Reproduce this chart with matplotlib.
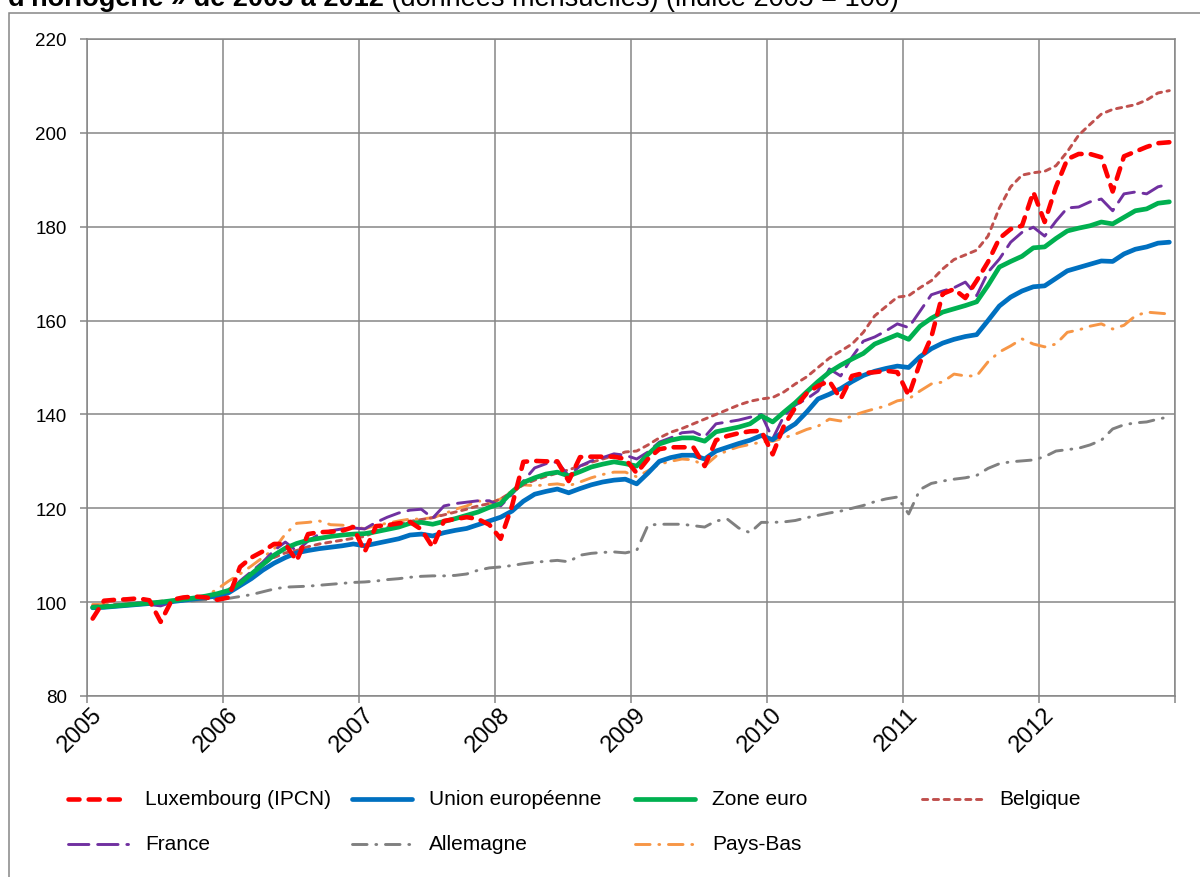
import matplotlib
matplotlib.use("Agg")
import matplotlib.pyplot as plt
import matplotlib.transforms as mtransforms
import numpy as np
from matplotlib.lines import Line2D
from matplotlib.patches import Rectangle

plt.rcParams["font.family"] = ["Liberation Sans", "DejaVu Sans"]

# Monthly index values, 2005 = 100, January 2005 to December 2012
years = list(range(2005, 2013))

luxembourg = [
    96.5, 100.3, 100.5, 100.6, 100.8, 100.4, 95.8, 100.5, 101.0, 101.2, 101.0, 100.5,
    101.0, 107.5, 109.5, 110.8, 112.4, 112.4, 108.8, 114.5, 114.9, 115.0, 115.2, 116.0,
    110.7, 116.2, 116.4, 116.8, 117.1, 115.5, 111.7, 117.3, 117.7, 118.1, 117.7, 116.5,
    113.5, 120.5, 129.9, 130.1, 130.0, 130.0, 125.8, 130.9, 131.0, 131.0, 131.0, 130.5,
    127.5, 130.5, 132.6, 133.0, 133.0, 133.0, 129.0, 134.5, 135.4, 136.0, 136.4, 136.5,
    131.5, 137.6, 141.5, 144.5, 146.1, 147.1, 143.3, 148.2, 148.8, 149.0, 149.3, 149.0,
    144.0, 151.0, 156.5, 165.7, 166.7, 164.8, 168.5, 172.5, 177.5, 179.5, 180.2, 187.4,
    181.0, 188.5, 194.4, 195.5, 195.5, 194.8, 187.5, 195.0, 196.0, 197.0, 197.8, 198.0,
]
union_europeenne = [
    98.8, 98.9, 99.1, 99.3, 99.5, 99.7, 99.9, 100.1, 100.4, 100.7, 101.0, 101.3,
    102.0, 103.5, 105.0, 106.8, 108.3, 109.5, 110.5, 111.0, 111.4, 111.7, 112.0, 112.4,
    112.0, 112.5, 113.0, 113.5, 114.3, 114.5, 114.1, 114.8, 115.3, 115.7, 116.5, 117.3,
    118.1, 119.4, 121.5, 123.0, 123.6, 124.1, 123.3, 124.2, 125.0, 125.6, 126.0, 126.2,
    125.2, 127.5, 130.0, 130.8, 131.3, 131.3, 130.5, 132.2, 133.0, 133.8, 134.5, 135.5,
    134.6, 136.5, 138.0, 140.5, 143.3, 144.3, 145.5, 147.0, 148.3, 149.2, 149.8, 150.3,
    150.0, 152.3, 154.0, 155.2, 156.0, 156.6, 157.0, 160.0, 163.1, 165.0, 166.3, 167.2,
    167.4, 169.0, 170.6, 171.3, 172.0, 172.7, 172.6, 174.2, 175.2, 175.7, 176.5, 176.7,
]
zone_euro = [
    98.9, 99.0, 99.2, 99.4, 99.6, 99.8, 100.0, 100.3, 100.6, 100.9, 101.3, 101.8,
    102.5, 104.0, 106.0, 108.0, 110.0, 111.5, 112.5, 113.2, 113.6, 114.0, 114.3, 114.5,
    114.6, 115.0, 115.5, 116.0, 116.8, 117.0, 116.6, 117.2, 117.8, 118.5, 119.2, 120.2,
    121.0, 123.5, 125.5, 126.5, 127.3, 127.7, 126.9, 127.8, 128.8, 129.4, 129.9, 129.5,
    129.0, 131.5, 133.7, 134.5, 135.0, 135.0, 134.3, 136.3, 136.8, 137.3, 138.0, 139.7,
    138.4, 140.5, 142.5, 144.8, 147.0, 149.0, 150.5, 151.8, 153.0, 155.0, 156.0, 157.0,
    156.0, 158.8, 160.5, 161.8, 162.5, 163.2, 164.0, 167.5, 171.4, 172.6, 173.7, 175.5,
    175.7, 177.5, 179.1, 179.7, 180.2, 181.0, 180.6, 182.0, 183.4, 183.8, 185.0, 185.3,
]
belgique = [
    99.2, 99.3, 99.5, 99.6, 99.8, 100.0, 100.2, 100.4, 100.6, 100.8, 101.0, 101.3,
    102.0, 104.0, 106.0, 108.0, 109.5, 110.5, 111.0, 111.8, 112.4, 112.8, 113.2, 113.6,
    114.0, 115.0, 116.0, 116.6, 117.2, 117.6, 118.0, 118.6, 119.2, 119.8, 120.5, 121.0,
    122.0, 123.5, 125.0, 126.0, 126.8, 127.5, 128.2, 129.0, 129.8, 130.5, 131.2, 132.0,
    132.2, 133.5, 135.0, 136.2, 137.0, 138.0, 139.0, 140.0, 141.0, 142.0, 142.8, 143.3,
    143.6, 144.8, 146.5, 148.0, 150.0, 152.0, 153.5, 155.0, 157.5, 161.0, 163.0, 165.0,
    165.3, 167.0, 168.5, 171.0, 173.0, 174.0, 175.0, 178.0, 184.0, 188.5, 191.0, 191.5,
    191.8, 193.0, 196.0, 199.5, 201.8, 204.0, 205.0, 205.5, 206.0, 207.0, 208.5, 209.0,
]
france = [
    98.8, 99.0, 99.2, 99.5, 99.8, 99.5, 99.2, 100.0, 100.4, 100.8, 101.2, 101.6,
    102.0, 104.5, 106.5, 108.5, 111.0, 112.8, 110.9, 113.0, 114.5, 115.2, 115.6, 115.8,
    115.6, 117.0, 118.1, 119.0, 119.6, 119.8, 117.9, 120.5, 121.0, 121.3, 121.6, 121.6,
    120.5, 123.0, 125.8, 128.6, 129.5, 129.9, 126.9, 129.0, 130.1, 130.8, 131.6, 131.3,
    130.5, 132.0, 134.1, 135.0, 136.1, 136.3, 135.2, 138.0, 138.4, 138.8, 139.4, 140.0,
    134.8, 139.7, 142.0, 143.3, 145.0, 149.7, 148.2, 152.2, 155.6, 156.5, 157.8, 159.3,
    158.5, 162.0, 165.5, 166.3, 167.0, 168.2, 165.3, 170.3, 173.1, 176.7, 178.8, 179.9,
    178.0, 181.2, 184.0, 184.2, 185.3, 185.9, 183.4, 187.0, 187.4, 187.0, 188.5, 189.1,
]
allemagne = [
    99.0, 99.1, 99.2, 99.4, 99.5, 99.7, 99.8, 100.0, 100.2, 100.3, 100.5, 100.7,
    100.8, 101.2, 101.6, 102.2, 102.8, 103.2, 103.3, 103.4, 103.6, 103.8, 104.0, 104.2,
    104.3, 104.5, 104.8, 105.0, 105.3, 105.5, 105.6, 105.6, 105.7, 106.0, 106.8, 107.3,
    107.5, 107.8, 108.2, 108.5, 108.7, 108.9, 108.6, 110.0, 110.4, 110.6, 110.7, 110.5,
    111.0, 116.4, 116.6, 116.6, 116.6, 116.3, 116.0, 117.3, 117.7, 115.8, 114.8, 117.0,
    117.0, 117.1, 117.4, 118.0, 118.5, 119.0, 119.4, 120.0, 120.6, 121.4, 122.0, 122.4,
    118.8, 124.0, 125.3, 125.8, 126.2, 126.5, 127.0, 128.5, 129.5, 129.9, 130.1, 130.3,
    131.0, 132.2, 132.5, 132.8, 133.5, 134.5, 136.9, 137.8, 138.2, 138.4, 139.0, 139.5,
]
pays_bas = [
    99.5, 99.5, 99.5, 99.6, 99.7, 99.8, 99.9, 100.1, 100.4, 100.8, 101.3, 102.8,
    104.5, 106.0, 107.7, 109.5, 111.3, 114.5, 116.8, 117.0, 117.3, 116.5, 116.4, 116.2,
    115.6, 116.4, 116.8, 117.3, 117.7, 117.7, 118.0, 118.8, 119.8, 120.5, 121.6, 121.0,
    122.0, 123.7, 125.0, 124.8, 125.0, 125.2, 124.8, 125.6, 126.5, 127.2, 127.7, 127.7,
    126.7, 128.0, 129.4, 130.0, 130.5, 130.3, 129.0, 131.1, 132.3, 133.1, 133.6, 134.1,
    134.3, 135.0, 135.8, 136.8, 137.5, 139.0, 138.6, 139.7, 140.5, 141.2, 141.8, 142.9,
    143.3, 145.0, 146.5, 146.9, 148.6, 148.2, 148.2, 151.2, 153.3, 154.6, 156.1, 155.0,
    154.4, 155.0, 157.5, 158.0, 158.8, 159.3, 158.2, 159.0, 161.0, 161.8, 161.6, 161.4,
]

labels = ["Luxembourg (IPCN)", "Union européenne", "Zone euro", "Belgique",
          "France", "Allemagne", "Pays-Bas"]
series = [luxembourg, union_europeenne, zone_euro, belgique, france, allemagne, pays_bas]

styles = [
    dict(color="#FF0000", lw=3.3, dashes=(2.4, 2.0), dash_capstyle="round"),
    dict(color="#0070C0", lw=3.4, solid_capstyle="round"),
    dict(color="#00B050", lw=3.4, solid_capstyle="round"),
    dict(color="#C0504D", lw=2.1, dashes=(1.8, 1.9), dash_capstyle="round"),
    dict(color="#7030A0", lw=2.1, dashes=(7, 3), dash_capstyle="round"),
    dict(color="#808080", lw=2.1, dashes=(5, 3, 0.3, 3), dash_capstyle="round"),
    dict(color="#F79646", lw=2.1, dashes=(5, 3, 0.3, 3), dash_capstyle="round"),
]

months = 2005 + (np.arange(len(luxembourg)) + 0.5) / 12

W, H = 1200, 878
fig = plt.figure(figsize=(W / 100, H / 100), dpi=100)
ax = fig.add_axes([87 / W, 1 - 697 / H, (1175 - 87) / W, (697 - 40) / H])

# draw order: greys and Pays-Bas behind, Luxembourg on top
order = [5, 6, 3, 4, 1, 2, 0]
for i in order:
    ax.plot(months, series[i], zorder=3 + order.index(i), **styles[i])

grid_col = "#868686"
ax.set_xlim(2005, 2013)
ax.set_ylim(80, 220)
ax.set_yticks(range(80, 221, 20))
ax.set_xticks(years + [2013])
ax.set_xticklabels([str(y) for y in years] + [""])
ax.grid(True, color=grid_col, lw=1.1)
ax.set_axisbelow(True)
for sp in ax.spines.values():
    sp.set_color(grid_col)
    sp.set_linewidth(1.1)
ax.tick_params(axis="both", colors=grid_col, length=5, width=1.1, labelcolor="black")
ax.tick_params(axis="y", pad=9.5, labelsize=13.5)
ax.tick_params(axis="x", pad=0, labelsize=17)
shift = mtransforms.ScaledTranslation(4 / 100, 0, fig.dpi_scale_trans)
for lab in ax.get_xticklabels():
    lab.set_rotation(45)
    lab.set_ha("right")
    lab.set_va("top")
    lab.set_rotation_mode("anchor")
    lab.set_transform(lab.get_transform() + shift)

# legend laid out on an even four-column grid
col_x = [68, 352, 635, 922]
row_y = [800, 845]
for k, (lab, st) in enumerate(zip(labels, styles)):
    x0 = col_x[k % 4]
    y0 = row_y[k // 4]
    fig.add_artist(Line2D([x0 / W, (x0 + 60) / W], [1 - y0 / H, 1 - y0 / H],
                          transform=fig.transFigure, **st))
    fig.text((x0 + 77) / W, 1 - y0 / H, lab, fontsize=15, va="center", ha="left")

# chart frame and clipped heading
fig.add_artist(Rectangle((8.5 / W, -0.1), 1.2, 1.1 - 14 / H, transform=fig.transFigure,
                         fill=False, edgecolor="#868686", lw=1.1))
t1 = fig.text(8 / W, 1 - 6 / H, "d'horlogerie » de 2005 à 2012", fontsize=19.5,
              fontweight="bold", va="baseline", ha="left")
fig.canvas.draw()
bb = t1.get_window_extent()
fig.text(bb.x1 / W, 1 - 6 / H, " (données mensuelles) (indice 2005 = 100)", fontsize=19.5,
         va="baseline", ha="left")

fig.savefig("out.png", dpi=100)
